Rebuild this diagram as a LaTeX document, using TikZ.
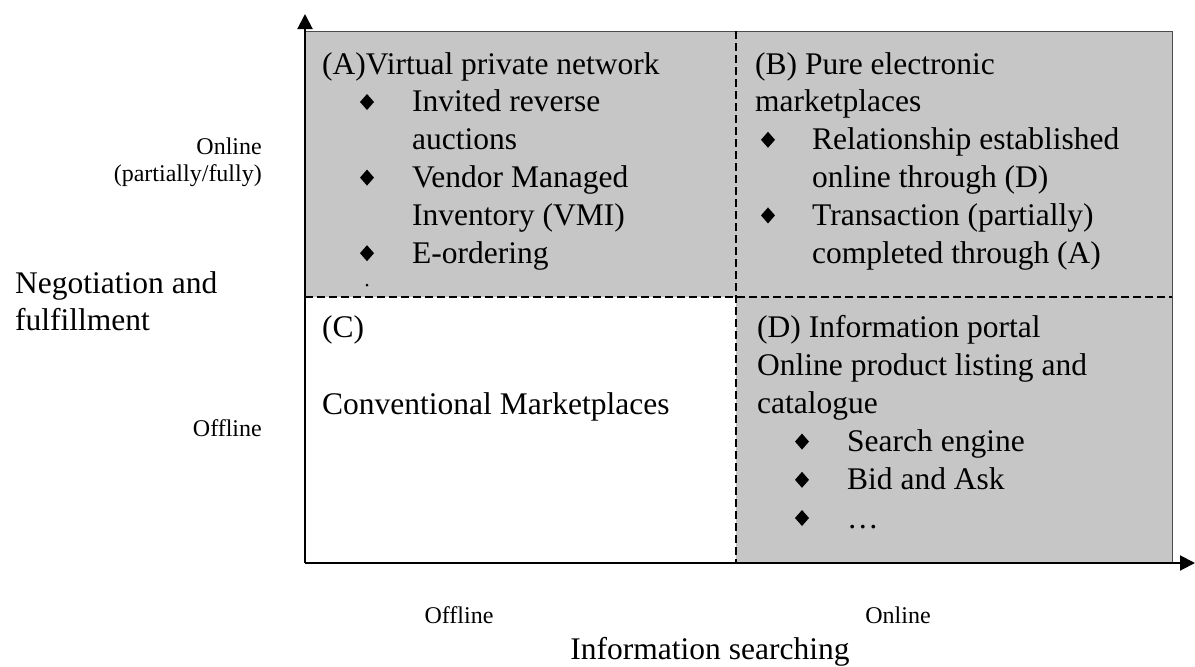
\documentclass[tikz,border=0pt]{standalone}
\usepackage{fontspec}
\setmainfont{Liberation Serif}
\usetikzlibrary{arrows.meta}
\definecolor{qgrey}{RGB}{198,198,198}
\newcommand{\bigtxt}{\fontsize{31.5}{38}\selectfont}
\newcommand{\smalltxt}{\fontsize{24}{29}\selectfont}

\begin{document}
\begin{tikzpicture}[x=1pt,y=-1pt,
  txt/.style={inner sep=0pt, font=\bigtxt, anchor=base west},
  lbl/.style={inner sep=0pt, font=\smalltxt},
  bul/.pic={\fill (0,-8) -- (7,0) -- (0,8) -- (-7,0) -- cycle;},
  divider/.style={line width=2pt, dash pattern=on 8pt off 4pt},
  axis/.style={line width=2pt, -{Triangle[length=15pt,width=15pt]}}]
\useasboundingbox (0,0) rectangle (1195,667);

% shaded quadrants A, B and D
\fill[qgrey] (305,31) -- (1172,31) -- (1172,563) -- (736,563) -- (736,297) -- (305,297) -- cycle;
\draw[line width=0.8pt, black!70] (305,31) -- (1172,31) -- (1172,563);

% quadrant dividers
\draw[divider] (305,297) -- (1172,297);
\draw[divider] (736,31) -- (736,563);

% axes
\coordinate (O) at (305,563);
\coordinate (ytip) at (305,14);
\coordinate (xtip) at (1195,563);
\draw[axis] (O) -- (ytip);
\draw[axis] (O) -- (xtip);

% (A)
\node[txt] (a0) at (322,74) {(A)Virtual private network};
\node[txt] (a1) at (412,111.8) {Invited reverse};
\node[txt] (a2) at (412,149.6) {auctions};
\node[txt] (a3) at (412,187.4) {Vendor Managed};
\node[txt] (a4) at (412,225.2) {Inventory (VMI)};
\node[txt] (a5) at (412,263) {E-ordering};
\pic at (367,102) {bul};
\pic at (367,177.6) {bul};
\pic at (367,253.2) {bul};
\fill (367,285) circle (1.5);

% (B)
\node[txt] (b0) at (755,74) {(B) Pure electronic};
\node[txt] (b1) at (755,111.8) {marketplaces};
\node[txt] (b2) at (812,149.6) {Relationship established};
\node[txt] (b3) at (812,187.4) {online through (D)};
\node[txt] (b4) at (812,225.2) {Transaction (partially)};
\node[txt] (b5) at (812,263) {completed through (A)};
\pic at (768,139.8) {bul};
\pic at (768,215.4) {bul};

% (C)
\node[txt] (c0) at (322,337) {(C)};
\node[txt] (c1) at (322,414) {Conventional Marketplaces};

% (D)
\node[txt] (d0) at (757,337) {(D) Information portal};
\node[txt] (d1) at (757,375.2) {Online product listing and};
\node[txt] (d2) at (757,413.4) {catalogue};
\node[txt] (d3) at (847,451.6) {Search engine};
\node[txt] (d4) at (847,489.8) {Bid and Ask};
\node[txt] (d5) at (847,528) {…};
\pic at (802,441.6) {bul};
\pic at (802,479.8) {bul};
\pic at (802,518) {bul};

% vertical axis labels
\node[lbl, anchor=base east] (yon) at (262,154) {Online};
\node[lbl, anchor=base east] (ypart) at (262,181.5) {(partially/fully)};
\node[lbl, anchor=base east] (yoff) at (262,436) {Offline};
\node[txt] (ytitle1) at (15,293) {Negotiation and};
\node[txt] (ytitle2) at (15,330) {fulfillment};

% horizontal axis labels
\node[lbl, anchor=base] (xoff) at (459,623) {Offline};
\node[lbl, anchor=base] (xon) at (898,623) {Online};
\node[txt, anchor=base] (xtitle) at (710,659) {Information searching};
\end{tikzpicture}
\end{document}
